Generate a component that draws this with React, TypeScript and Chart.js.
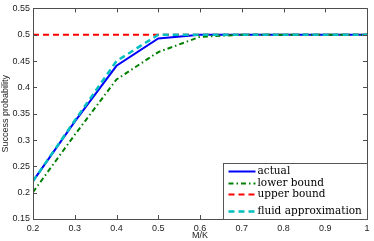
import React, { useEffect, useRef } from "react";
import { Chart, registerables } from "chart.js";

Chart.register(...registerables);

const xValues = [0.2, 0.3, 0.4, 0.5, 0.6, 0.7, 0.8, 0.9, 1.0];
const actual = [0.222, 0.335, 0.441, 0.493, 0.5, 0.5, 0.5, 0.5, 0.5];
const lowerBound = [0.201, 0.31, 0.415, 0.467, 0.496, 0.5, 0.5, 0.5, 0.5];
const upperBound = [0.5, 0.5, 0.5, 0.5, 0.5, 0.5, 0.5, 0.5, 0.5];
const fluidApprox = [0.222, 0.337, 0.45, 0.5, 0.5, 0.5, 0.5, 0.5, 0.5];
const seriesNames = ["actual", "lower bound", "upper bound", "fluid approximation"];
const xTitle = "M/K";
const yTitle = "Success probability";

const AXIS_COLOR = "#4d4d4d";
const TICK_FONT = { family: "'Liberation Sans', Arial, sans-serif", size: 9 };

const framePlugin = {
  id: "frameTicks",
  afterDraw(chart: any) {
    const { ctx, chartArea } = chart;
    const { left, right, top, bottom } = chartArea;
    const xs = chart.scales.x;
    const ys = chart.scales.y;
    const len = 4;
    ctx.save();
    ctx.strokeStyle = AXIS_COLOR;
    ctx.lineWidth = 1;
    ctx.beginPath();
    ctx.rect(Math.round(left) + 0.5, Math.round(top) + 0.5, Math.round(right - left), Math.round(bottom - top));
    ctx.stroke();
    ctx.beginPath();
    xs.ticks.forEach((t: any) => {
      const px = Math.round(xs.getPixelForValue(t.value)) + 0.5;
      ctx.moveTo(px, bottom);
      ctx.lineTo(px, bottom - len);
      ctx.moveTo(px, top);
      ctx.lineTo(px, top + len);
    });
    ys.ticks.forEach((t: any) => {
      const py = Math.round(ys.getPixelForValue(t.value)) + 0.5;
      ctx.moveTo(left, py);
      ctx.lineTo(left + len, py);
      ctx.moveTo(right, py);
      ctx.lineTo(right - len, py);
    });
    ctx.stroke();

    // legend box
    const bx = Math.round(right - 144) + 0.5;
    const by = Math.round(bottom - 56) + 0.5;
    const bw = Math.round(right) + 0.5 - bx;
    const bh = Math.round(bottom) + 0.5 - by;
    ctx.fillStyle = "#ffffff";
    ctx.fillRect(bx, by, bw, bh);
    ctx.strokeStyle = "#555555";
    ctx.strokeRect(bx, by, bw, bh);
    const rowsY = [8, 20, 31, 48];
    const legendOrder = [0, 1, 2, 3];
    ctx.font = "10.5px 'DejaVu Serif', serif";
    ctx.textBaseline = "middle";
    ctx.textAlign = "left";
    legendOrder.forEach((di, i) => {
      const ds = chart.data.datasets.find((d: any) => d.label === seriesNames[di]);
      const y = by + rowsY[i];
      ctx.save();
      ctx.strokeStyle = ds.borderColor;
      ctx.lineWidth = ds.borderWidth;
      ctx.setLineDash(ds.borderDash || []);
      ctx.beginPath();
      ctx.moveTo(bx + 5, y);
      ctx.lineTo(bx + 32, y);
      ctx.stroke();
      ctx.restore();
      ctx.fillStyle = "#000000";
      ctx.fillText(seriesNames[di], bx + 34, y);
    });
    ctx.restore();
  },
};

export default function App() {
  const ref = useRef<HTMLCanvasElement | null>(null);
  useEffect(() => {
    document.body.style.margin = "0";
    const canvas = ref.current!;
    const mk = (arr: number[]) => xValues.map((x, i) => ({ x, y: arr[i] }));
    const chart = new Chart(canvas, {
      type: "line",
      data: {
        datasets: [
          { label: seriesNames[0], data: mk(actual), borderColor: "#0000ff", borderWidth: 2, pointRadius: 0, order: 3, tension: 0 },
          { label: seriesNames[1], data: mk(lowerBound), borderColor: "#008000", borderWidth: 2, borderDash: [5, 3, 1.5, 3], pointRadius: 0, order: 2, tension: 0 },
          { label: seriesNames[2], data: mk(upperBound), borderColor: "#ff0000", borderWidth: 2, borderDash: [6, 4], pointRadius: 0, order: 1, tension: 0 },
          { label: seriesNames[3], data: mk(fluidApprox), borderColor: "#00bfbf", borderWidth: 2.5, borderDash: [6, 4], pointRadius: 0, order: 0, tension: 0 },
        ],
      },
      options: {
        animation: false,
        responsive: false,
        maintainAspectRatio: false,
        layout: { padding: { top: 6, right: 7, left: 0, bottom: 0 } },
        plugins: { legend: { display: false }, tooltip: { enabled: false } },
        scales: {
          x: {
            type: "linear",
            min: 0.2,
            max: 1,
            grid: { display: false, drawTicks: false },
            border: { display: false },
            ticks: {
              stepSize: 0.1,
              padding: 4,
              color: "#222",
              font: TICK_FONT,
              maxRotation: 0,
              callback: (v: any) => String(Math.round(Number(v) * 10) / 10),
            },
            title: { display: true, text: xTitle, color: "#222", font: TICK_FONT, padding: 0 },
            afterFit: (s: any) => { s.height = 22; },
          },
          y: {
            type: "linear",
            min: 0.15,
            max: 0.55,
            grid: { display: false, drawTicks: false },
            border: { display: false },
            ticks: {
              stepSize: 0.05,
              padding: 3,
              color: "#222",
              font: TICK_FONT,
              callback: (v: any) => String(Math.round(Number(v) * 100) / 100),
            },
            title: { display: true, text: yTitle, color: "#222", font: TICK_FONT, padding: 0 },
            afterFit: (s: any) => { s.width = 33; },
          },
        },
      },
      plugins: [framePlugin],
    });
    return () => chart.destroy();
  }, []);
  return (
    <div style={{ width: 374, height: 241 }}>
      <canvas ref={ref} width={374} height={241} style={{ display: "block" }} />
    </div>
  );
}
